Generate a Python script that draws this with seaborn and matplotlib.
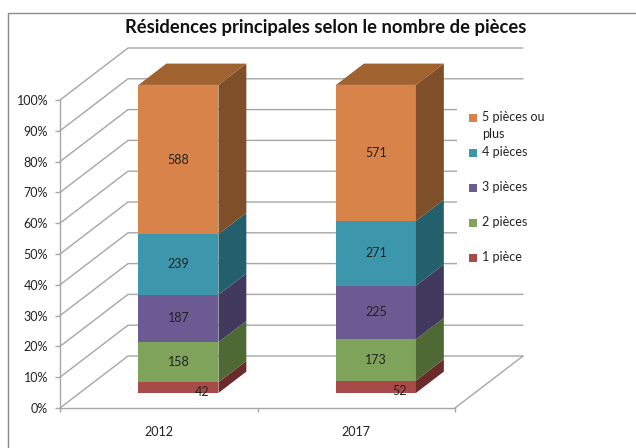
import numpy as np
import matplotlib
matplotlib.use("Agg")
import matplotlib.pyplot as plt
from matplotlib.patches import Polygon, Rectangle
import seaborn as sns

# data
years = ["2012", "2017"]
categories = ["1 pièce", "2 pièces", "3 pièces", "4 pièces", "5 pièces ou\nplus"]
counts_2012 = [42, 158, 187, 239, 588]
counts_2017 = [52, 173, 225, 271, 571]
pct_ticks = [0, 10, 20, 30, 40, 50, 60, 70, 80, 90, 100]

front_colors = ["#A84A48", "#7FA35A", "#6C5B93", "#3C97AC", "#D8834A"]
side_colors = ["#6B2B2B", "#4F6934", "#423A5E", "#245F6C", "#7E4F28"]
top_color = "#A0622F"
grid_color = "#A6A6A6"

sns.set_theme(style="white")
plt.rcParams["font.family"] = ["Lato", "DejaVu Sans"]

fig = plt.figure(figsize=(6.36, 4.48), dpi=100)
# front plane of the 3d box
ax = fig.add_axes([60 / 636, 40 / 448, 395 / 636, 308 / 448])
ax.set_xlim(-0.5, 1.5)
ax.set_ylim(0, 100)

# depth of the box in data units, bars sit in the middle of it
DX, DY = 68 / 197.5, 52 / 3.08
F0, F1 = 0.29, 0.70
W = 0.405

# back wall + left wall grid
for v in pct_ticks:
    ax.plot([-0.5, -0.5 + DX, 1.5 + DX], [v, v + DY, v + DY],
            color=grid_color, lw=1, clip_on=False, zorder=1)
ax.plot([1.5, 1.5 + DX], [0, DY], color=grid_color, lw=1, clip_on=False, zorder=1)

d = F1 - F0
for i, counts in enumerate([counts_2012, counts_2017]):
    counts = np.array(counts)
    pct = counts / counts.sum() * 100
    bottoms = np.concatenate([[0], np.cumsum(pct)[:-1]])
    xc = i + F0 * DX
    sy = F0 * DY
    ax.bar([xc] * len(pct), pct, width=W, bottom=bottoms + sy,
           color=front_colors, zorder=3, clip_on=False, linewidth=0)
    xr = xc + W / 2
    xl = xc - W / 2
    for j in range(len(pct)):
        b, h = bottoms[j] + sy, pct[j]
        side = [(xr, b), (xr, b + h), (xr + d * DX, b + h + d * DY), (xr + d * DX, b + d * DY)]
        ax.add_patch(Polygon(side, closed=True, facecolor=side_colors[j],
                             edgecolor="none", zorder=3, clip_on=False))
        if h < 5:
            ax.text(xc + 0.12, b + h / 2 - 1.5, str(counts[j]), ha="center", va="center",
                    fontsize=9, color="#222222", zorder=5, clip_on=False)
        else:
            ax.text(xc, b + h / 2, str(counts[j]), ha="center", va="center",
                    fontsize=9, color="#222222", zorder=5, clip_on=False)
    top_y = bottoms[-1] + pct[-1] + sy
    top = [(xl, top_y), (xr, top_y), (xr + d * DX, top_y + d * DY), (xl + d * DX, top_y + d * DY)]
    ax.add_patch(Polygon(top, closed=True, facecolor=top_color,
                         edgecolor="none", zorder=3, clip_on=False))

# axes
for s in ["top", "right"]:
    ax.spines[s].set_visible(False)
for s in ["left", "bottom"]:
    ax.spines[s].set_color(grid_color)
    ax.spines[s].set_linewidth(1)
ax.set_yticks(pct_ticks, [f"{v}%" for v in pct_ticks])
ax.set_xticks([0, 1], years)
ax.set_xticks([-0.5, 0.5, 1.5], minor=True)
ax.tick_params(axis="y", which="major", length=3.5, width=1, color=grid_color,
               pad=5, labelsize=9, labelcolor="#222222", left=True)
ax.tick_params(axis="x", which="major", length=0, pad=13, labelsize=9, labelcolor="#222222")
ax.tick_params(axis="x", which="minor", length=3, width=1, color=grid_color, bottom=True)
ax.set_facecolor("none")

# legend, drawn by hand like excel does (one row every 35px, first line aligned)
fig.patches.append(Rectangle((457 / 636, 1 - 272 / 448), 88 / 636, 168 / 448,
                             transform=fig.transFigure, facecolor="white",
                             edgecolor="none", zorder=4))
for k, (lab, col) in enumerate(zip(categories[::-1], front_colors[::-1])):
    yc = 118 + 35 * k
    fig.patches.append(Rectangle((469 / 636, 1 - (yc + 4) / 448), 8 / 636, 8 / 448,
                                 transform=fig.transFigure, facecolor=col,
                                 edgecolor="none", zorder=5))
    fig.text(482 / 636, 1 - (yc - 7) / 448, lab, ha="left", va="top", fontsize=9,
             color="#222222", linespacing=1.45, zorder=6)

fig.text(326 / 636, 1 - 27 / 448, "Résidences principales selon le nombre de pièces",
         ha="center", va="center", fontsize=13.2, fontweight="bold", color="#111111")

# chart frame
fig.patches.append(Rectangle((8 / 636, -0.05), 1.2, 1 - 13 / 448 + 0.05,
                             transform=fig.transFigure, fill=False,
                             edgecolor="#8C8C8C", lw=1))

fig.savefig("out.png", dpi=100)
